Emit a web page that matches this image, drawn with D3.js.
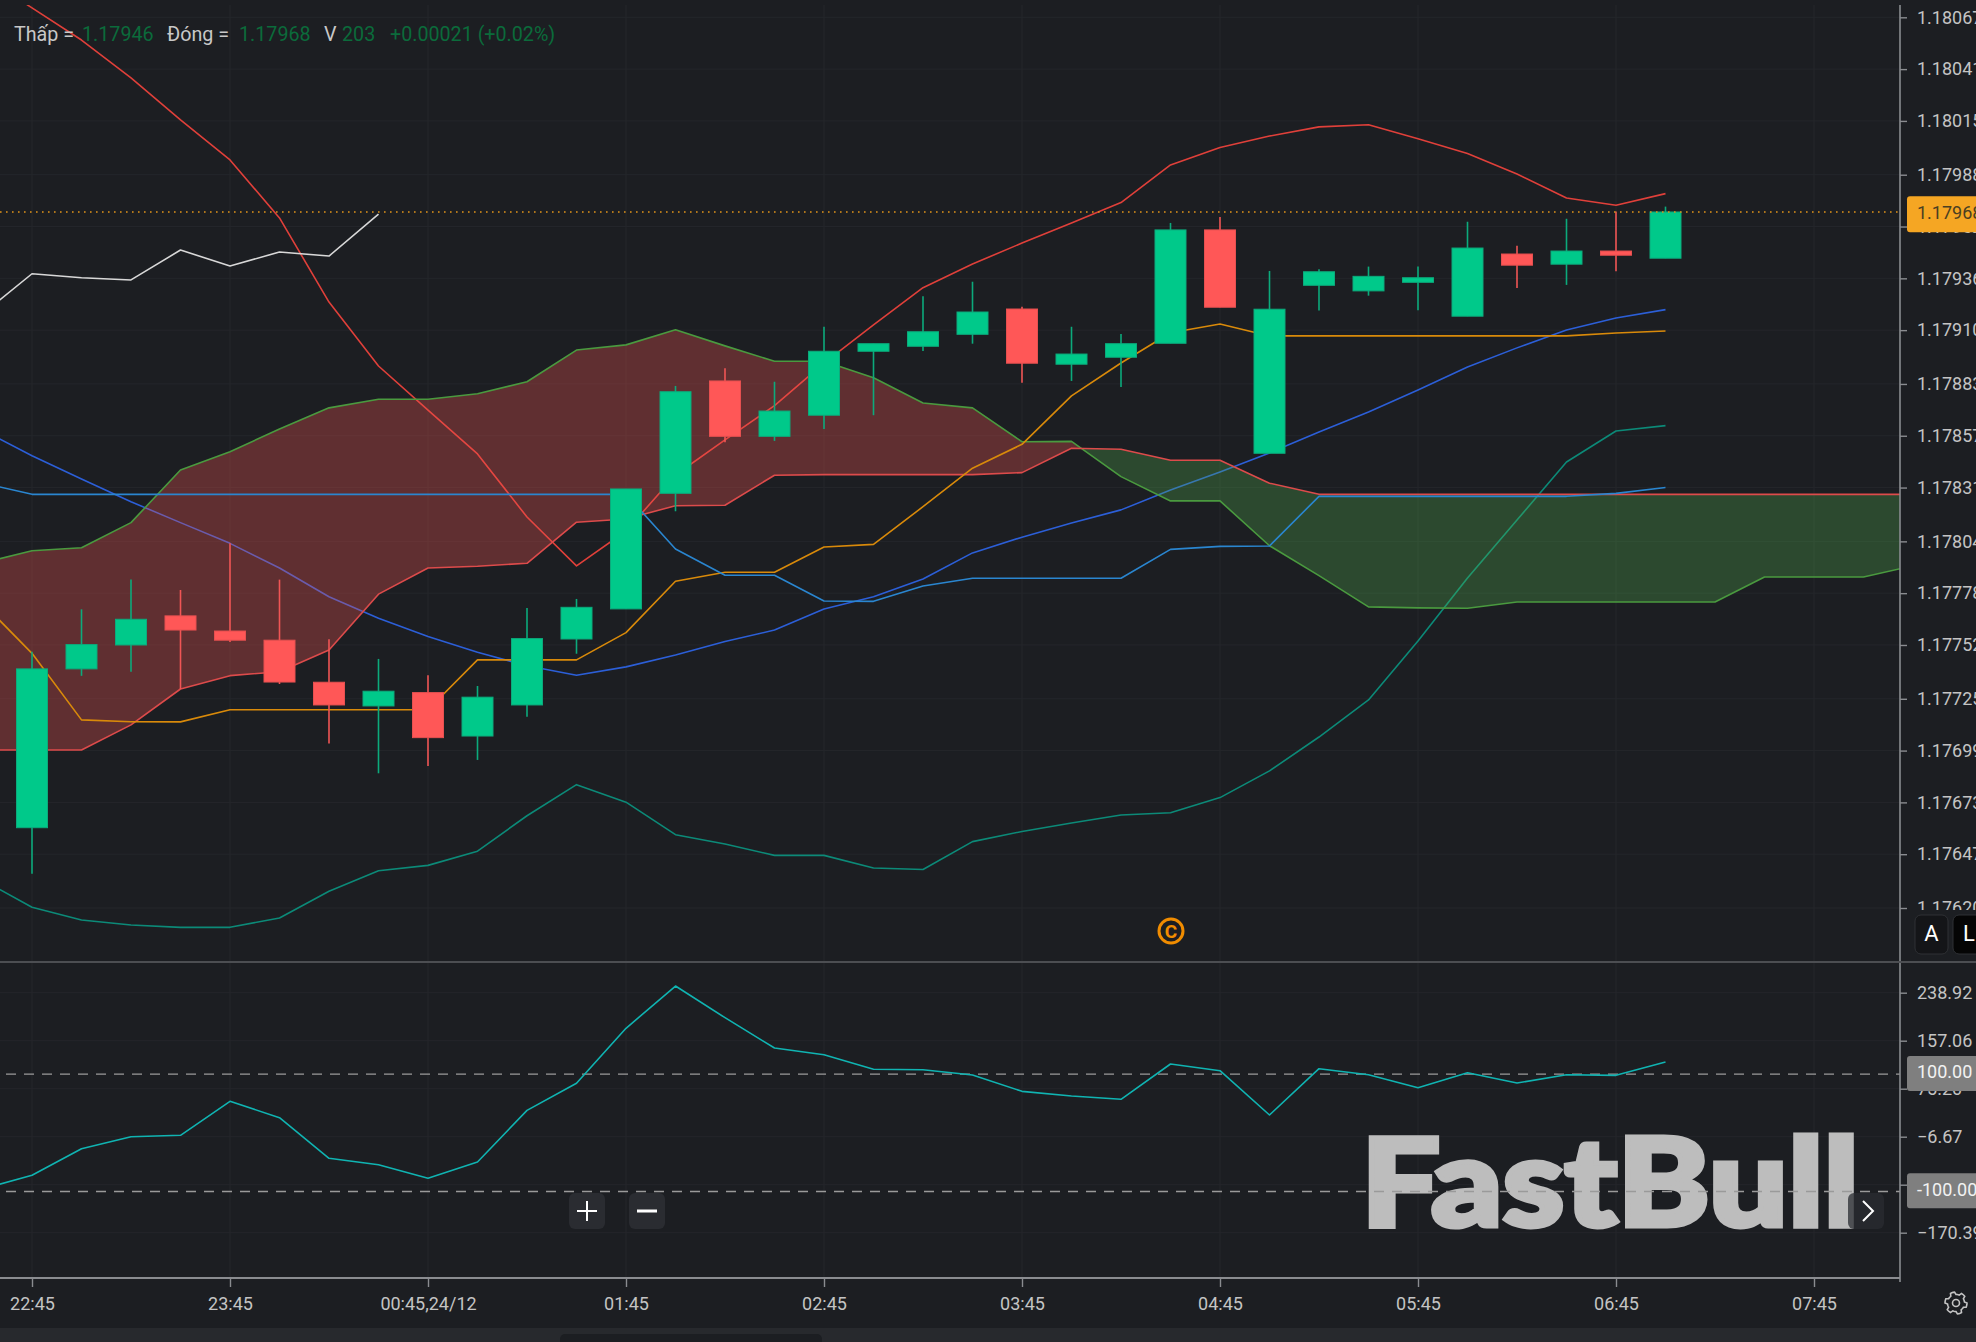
<!doctype html>
<html>
<head>
<meta charset="utf-8">
<script src="https://d3js.org/d3.v7.min.js"></script>
<style>
	html, body { margin: 0; padding: 0; background: #1c1e22; overflow: hidden; }
	svg { display: block; }
	text { font-family: Roboto, "Noto Sans", sans-serif; }
</style>
</head>
<body>
<div id="chart"></div>
<script>
// candles, bar 0 = 22:45, one bar every 15 minutes
var candleOpen = [1.176603,1.177400,1.177520,1.177666,1.177590,1.177544,1.177333,1.177214,1.177281,1.177063,1.177219,1.177550,1.177701,1.178281,1.178845,1.178567,1.178673,1.178994,1.179019,1.179079,1.179206,1.178929,1.178964,1.179034,1.179603,1.178482,1.179325,1.179297,1.179340,1.179170,1.179482,1.179431,1.179497,1.179461];
var candleClose = [1.177400,1.177522,1.177649,1.177595,1.177544,1.177334,1.177219,1.177288,1.177055,1.177258,1.177552,1.177709,1.178303,1.178791,1.178567,1.178694,1.178994,1.179032,1.179092,1.179191,1.178934,1.178980,1.179032,1.179603,1.179215,1.179205,1.179393,1.179370,1.179363,1.179512,1.179426,1.179497,1.179476,1.179693];
var candleHigh = [1.177486,1.177699,1.177848,1.177796,1.178030,1.177848,1.177549,1.177450,1.177368,1.177314,1.177706,1.177751,1.178303,1.178820,1.178909,1.178841,1.179117,1.179032,1.179270,1.179343,1.179218,1.179117,1.179081,1.179638,1.179668,1.179397,1.179405,1.179419,1.179419,1.179644,1.179524,1.179659,1.179695,1.179720];
var candleLow = [1.176372,1.177365,1.177386,1.177299,1.177535,1.177324,1.177025,1.176876,1.176913,1.176943,1.177160,1.177476,1.177701,1.178191,1.178537,1.178544,1.178604,1.178673,1.178995,1.179032,1.178836,1.178845,1.178815,1.179034,1.179215,1.178482,1.179199,1.179273,1.179200,1.179170,1.179312,1.179327,1.179395,1.179461];

// line series all start one bar before the first candle (bar -1)
var bbUpper = [1.180882,1.180717,1.180556,1.180366,1.180155,1.179954,1.179663,1.179241,1.178920,1.178699,1.178479,1.178162,1.177917,1.178092,1.178373,1.178549,1.178721,1.178935,1.179126,1.179313,1.179432,1.179537,1.179638,1.179740,1.179929,1.180017,1.180074,1.180120,1.180131,1.180061,1.179986,1.179884,1.179763,1.179727,1.179785];
var bbMiddle = [1.178599,1.178470,1.178353,1.178239,1.178134,1.178030,1.177906,1.177762,1.177654,1.177562,1.177483,1.177416,1.177368,1.177410,1.177470,1.177537,1.177595,1.177701,1.177762,1.177851,1.177982,1.178061,1.178132,1.178198,1.178298,1.178388,1.178484,1.178589,1.178689,1.178800,1.178915,1.179011,1.179101,1.179161,1.179203];
var bbLower = [1.176341,1.176204,1.176140,1.176115,1.176103,1.176103,1.176150,1.176284,1.176387,1.176414,1.176485,1.176663,1.176819,1.176731,1.176568,1.176521,1.176464,1.176464,1.176401,1.176393,1.176533,1.176584,1.176627,1.176667,1.176678,1.176754,1.176888,1.177058,1.177244,1.177540,1.177856,1.178147,1.178438,1.178594,1.178621];
var tenkan = [1.177731,1.177478,1.177144,1.177135,1.177134,1.177195,1.177195,1.177195,1.177195,1.177195,1.177445,1.177445,1.177445,1.177582,1.177840,1.177885,1.177885,1.178012,1.178025,1.178214,1.178407,1.178527,1.178770,1.178935,1.179087,1.179131,1.179071,1.179071,1.179071,1.179071,1.179071,1.179071,1.179071,1.179086,1.179096];
var kijun = [1.178333,1.178276,1.178276,1.178276,1.178276,1.178276,1.178276,1.178276,1.178276,1.178276,1.178276,1.178276,1.178276,1.178276,1.178002,1.177870,1.177870,1.177741,1.177739,1.177816,1.177855,1.177855,1.177855,1.177855,1.178000,1.178015,1.178017,1.178266,1.178266,1.178266,1.178266,1.178266,1.178266,1.178281,1.178310];
var chikou = [1.179181,1.179383,1.179363,1.179352,1.179502,1.179422,1.179492,1.179472,1.179682];
// the cloud runs on past the last candle, up to bar 38
var senkouA = [1.177932,1.177993,1.178008,1.178134,1.178398,1.178490,1.178604,1.178710,1.178753,1.178753,1.178781,1.178841,1.179000,1.179026,1.179102,1.179021,1.178944,1.178944,1.178861,1.178734,1.178710,1.178540,1.178542,1.178365,1.178243,1.178243,1.178018,1.177868,1.177711,1.177706,1.177704,1.177736,1.177736,1.177736,1.177736,1.177736,1.177861,1.177861,1.177861,1.177917];
var senkouB = [1.176993,1.176993,1.176993,1.177119,1.177299,1.177366,1.177386,1.177495,1.177775,1.177906,1.177915,1.177930,1.178136,1.178152,1.178219,1.178221,1.178372,1.178375,1.178375,1.178375,1.178375,1.178385,1.178507,1.178502,1.178447,1.178447,1.178332,1.178276,1.178276,1.178276,1.178276,1.178276,1.178276,1.178276,1.178276,1.178276,1.178276,1.178276,1.178276,1.178276];
// CCI, bar -1 to bar 33
var cci = [-95.9,-72.5,-27.1,-6.7,-4.3,53.7,25.7,-43.5,-54.4,-77.6,-49.8,38.3,84.4,178.2,250.3,196.3,144.6,133.2,108.3,107.6,98.5,70.7,62.7,57.1,117.3,105.9,30.3,109.3,99.1,76.9,102.5,84.9,99.1,98.0,120.7];

var priceTicks = [1.18067,1.18041,1.18015,1.17988,1.17962,1.17936,1.17910,1.17883,1.17857,1.17831,1.17804,1.17778,1.17752,1.17725,1.17699,1.17673,1.17647,1.17620];
var cciTicks = [238.92,157.06,75.20,-6.67,-88.53,-170.39];
var cciLevels = [100,-100];
var timeBars = [0,4,8,12,16,20,24,28,32,36];
var timeLabels = ["22:45","23:45","00:45,24/12","01:45","02:45","03:45","04:45","05:45","06:45","07:45"];
var lastClose = candleClose[candleClose.length - 1];

var width = 1976, height = 1342;
var axisX = 1900, paneTop = 5, paneSplit = 962, paneBottom = 1278;
var upColor = "#00c98a", downColor = "#ff5757";

var svg = d3.select("#chart").append("svg").attr("width", width).attr("height", height);

var x = d3.scaleLinear().domain([0, 36]).range([32, 1814]);
var yPrice = d3.scaleLinear().domain([1.17620, 1.18067]).range([908, 17.3]);
var yCci = d3.scaleLinear().domain([-170.39, 238.92]).range([1232.7, 992.7]);

svg.append("rect").attr("width", width).attr("height", height).attr("fill", "#1c1e22");

var defs = svg.append("defs");
defs.append("clipPath").attr("id", "mainClip").append("rect")
	.attr("x", 0).attr("y", paneTop).attr("width", axisX).attr("height", paneSplit - paneTop);
defs.append("clipPath").attr("id", "cciClip").append("rect")
	.attr("x", 0).attr("y", paneSplit).attr("width", axisX).attr("height", paneBottom - paneSplit);
defs.append("clipPath").attr("id", "priceAxisClip").append("rect")
	.attr("x", axisX).attr("y", 0).attr("width", 100).attr("height", 910);

// grid
var grid = svg.append("g").attr("stroke", "#24262b").attr("stroke-width", 1);
grid.selectAll(".gh").data(priceTicks).enter().append("line")
	.attr("x1", 0).attr("x2", axisX).attr("y1", function (d) { return yPrice(d); }).attr("y2", function (d) { return yPrice(d); });
grid.selectAll(".gc").data(cciTicks).enter().append("line")
	.attr("x1", 0).attr("x2", axisX).attr("y1", function (d) { return yCci(d); }).attr("y2", function (d) { return yCci(d); });
grid.selectAll(".gv").data(timeBars).enter().append("line")
	.attr("y1", paneTop).attr("y2", paneBottom).attr("x1", function (d) { return x(d); }).attr("x2", function (d) { return x(d); });

var main = svg.append("g").attr("clip-path", "url(#mainClip)");

function priceLine(values, color, g) {
	var line = d3.line()
		.x(function (d, i) { return x(i - 1); })
		.y(function (d) { return yPrice(d); });
	(g || main).append("path").datum(values)
		.attr("d", line).attr("fill", "none").attr("stroke", color)
		.attr("stroke-width", 1.6).attr("stroke-linejoin", "round");
}

// bollinger goes under the cloud, the cloud tints it
priceLine(bbUpper, "#e0403a");
priceLine(bbMiddle, "#2c5fd8");
priceLine(bbLower, "#0c8a78");

// add the crossing points so the two fills meet exactly
var cloud = [];
senkouA.forEach(function (a, i) {
	var b = senkouB[i];
	if (i > 0) {
		var d0 = senkouA[i - 1] - senkouB[i - 1], d1 = a - b;
		if (d0 * d1 < 0) {
			var t = d0 / (d0 - d1);
			var c = senkouA[i - 1] + (a - senkouA[i - 1]) * t;
			cloud.push({ bar: i - 1 + t - 1, a: c, b: c });
		}
	}
	cloud.push({ bar: i - 1, a: a, b: b });
});
var redArea = d3.area().x(function (d) { return x(d.bar); })
	.y0(function (d) { return yPrice(d.b); })
	.y1(function (d) { return yPrice(Math.max(d.a, d.b)); });
var greenArea = d3.area().x(function (d) { return x(d.bar); })
	.y0(function (d) { return yPrice(d.b); })
	.y1(function (d) { return yPrice(Math.min(d.a, d.b)); });
main.append("path").datum(cloud).attr("d", redArea).attr("fill", "rgb(239,83,80)").attr("fill-opacity", 0.32);
main.append("path").datum(cloud).attr("d", greenArea).attr("fill", "rgb(84,175,80)").attr("fill-opacity", 0.3);

priceLine(senkouA, "#4a9a3f");
priceLine(senkouB, "#dd4b4b");
priceLine(tenkan, "#d98a0a");
priceLine(kijun, "#2a86d0");
priceLine(chikou, "#d8d8d8");

// candles
var candles = candleOpen.map(function (o, i) {
	return { bar: i, open: o, close: candleClose[i], high: candleHigh[i], low: candleLow[i] };
});
var bar = main.selectAll(".candle").data(candles).enter().append("g").attr("class", "candle");
bar.append("line")
	.attr("x1", function (d) { return x(d.bar); }).attr("x2", function (d) { return x(d.bar); })
	.attr("y1", function (d) { return yPrice(d.high); }).attr("y2", function (d) { return yPrice(d.low); })
	.attr("stroke-width", 1.6)
	.attr("stroke", function (d) { return d.close >= d.open ? "#0caa7c" : "#f05555"; });
bar.append("rect")
	.attr("x", function (d) { return x(d.bar) - 15.5; }).attr("width", 31)
	.attr("y", function (d) { return yPrice(Math.max(d.open, d.close)); })
	.attr("height", function (d) { return Math.abs(yPrice(d.open) - yPrice(d.close)); })
	.attr("fill", function (d) { return d.close >= d.open ? upColor : downColor; })
	.attr("stroke", function (d) { return d.close >= d.open ? "#0caa7c" : "#e65050"; })
	.attr("stroke-width", 1);

// last price line
svg.append("line").attr("x1", 0).attr("x2", axisX).attr("y1", yPrice(lastClose)).attr("y2", yPrice(lastClose))
	.attr("stroke", "#e0941a").attr("stroke-width", 1.6).attr("stroke-dasharray", "1.6 4.4");

// header
var head = svg.append("text").attr("x", 14).attr("y", 41).attr("font-size", 19.7).attr("fill", "#c8c8c8");
head.append("tspan").text("Thấp = ");
head.append("tspan").attr("x", 82).attr("fill", "#0b6b3b").text("1.17946");
head.append("tspan").attr("x", 167).text("Đóng = ");
head.append("tspan").attr("x", 239).attr("fill", "#0b6b3b").text("1.17968");
head.append("tspan").attr("x", 324).text("V");
head.append("tspan").attr("x", 342).attr("fill", "#0b6b3b").text("203");
head.append("tspan").attr("x", 390).attr("fill", "#0b6b3b").text("+0.00021 (+0.02%)");

// watermark, copyright mark
svg.append("text").attr("x", 1361).attr("y", 1226).attr("font-size", 122)
	.attr("textLength", 498).attr("lengthAdjust", "spacingAndGlyphs")
	.attr("font-weight", 900).style("font-family", "Lato, Roboto, sans-serif")
	.attr("fill", "#bdbdbd").attr("stroke", "#bdbdbd").attr("stroke-width", 5).text("FastBull");
svg.append("circle").attr("cx", 1171).attr("cy", 931).attr("r", 12).attr("fill", "none")
	.attr("stroke", "#f08c00").attr("stroke-width", 3);
svg.append("text").attr("x", 1171).attr("y", 938).attr("text-anchor", "middle")
	.attr("font-size", 19).attr("font-weight", 700).attr("fill", "#f08c00").text("C");

// CCI pane
var cciLine = d3.line().x(function (d, i) { return x(i - 1); }).y(function (d) { return yCci(d); });
var cciPane = svg.append("g").attr("clip-path", "url(#cciClip)");
cciPane.selectAll(".level").data(cciLevels).enter().append("line")
	.attr("x1", 6).attr("x2", axisX).attr("y1", function (d) { return yCci(d); }).attr("y2", function (d) { return yCci(d); })
	.attr("stroke", "#9a9a9a").attr("stroke-width", 1.4).attr("stroke-dasharray", "10 8");
cciPane.append("path").datum(cci).attr("d", cciLine).attr("fill", "none")
	.attr("stroke", "#10b4b2").attr("stroke-width", 1.6).attr("stroke-linejoin", "round");

// axes
function styleAxis(g) {
	g.select(".domain").remove();
	g.selectAll("line").attr("stroke", "#8a8c90").attr("stroke-width", 1.4);
	g.selectAll("text").attr("fill", "#c4c4c4").attr("font-size", 18)
		.style("font-family", "Roboto, sans-serif");
}
svg.append("g").attr("clip-path", "url(#priceAxisClip)").append("g")
	.attr("transform", "translate(" + axisX + ",0)")
	.call(d3.axisRight(yPrice).tickValues(priceTicks).tickFormat(d3.format(".5f")).tickSize(7).tickPadding(10))
	.call(styleAxis);
svg.append("g").attr("transform", "translate(" + axisX + ",0)")
	.call(d3.axisRight(yCci).tickValues(cciTicks).tickFormat(d3.format(".2f")).tickSize(7).tickPadding(10))
	.call(styleAxis);
svg.append("g").attr("transform", "translate(0," + paneBottom + ")")
	.call(d3.axisBottom(x).tickValues(timeBars).tickFormat(function (d, i) { return timeLabels[i]; }).tickSize(9).tickPadding(10))
	.call(styleAxis);

// frame
svg.append("line").attr("x1", axisX).attr("x2", axisX).attr("y1", paneTop).attr("y2", paneBottom + 4)
	.attr("stroke", "#8a8c90").attr("stroke-width", 1.6);
svg.append("line").attr("x1", 0).attr("x2", 1976).attr("y1", paneSplit).attr("y2", paneSplit)
	.attr("stroke", "#4c4e52").attr("stroke-width", 2);
svg.append("line").attr("x1", 0).attr("x2", axisX).attr("y1", paneBottom).attr("y2", paneBottom)
	.attr("stroke", "#8a8c90").attr("stroke-width", 1.8);

// value tags
function tag(y, h, fill, label, textColor) {
	svg.append("rect").attr("x", 1907).attr("y", y - h / 2).attr("width", 80).attr("height", h)
		.attr("rx", 3).attr("fill", fill);
	svg.append("text").attr("x", 1917).attr("y", y + 5).attr("font-size", 18).attr("fill", textColor).text(label);
}
tag(yPrice(lastClose) + 2.3, 36, "#f5a623", "1.17968", "#4a3f22");
tag(yCci(100) - 0.7, 35, "#7f7f7f", "100.00", "#f2f2f2");
tag(yCci(-100) - 0.7, 35, "#7f7f7f", "-100.00", "#f2f2f2");

// buttons
function button(bx, by, w, h, fill) {
	return svg.append("rect").attr("x", bx).attr("y", by).attr("width", w).attr("height", h).attr("rx", 6).attr("fill", fill);
}
function stroke(x1, y1, x2, y2, w) {
	svg.append("line").attr("x1", x1).attr("y1", y1).attr("x2", x2).attr("y2", y2)
		.attr("stroke", "#ffffff").attr("stroke-width", w);
}
button(569, 1193, 36, 36, "#2a2c31");
stroke(577, 1211, 597, 1211, 2);
stroke(587, 1201, 587, 1221, 2);
button(629, 1193, 36, 36, "#2a2c31");
stroke(637, 1211, 657, 1211, 3);
button(1848, 1193, 36, 36, "#2a2c31").attr("fill-opacity", 0.75);
svg.append("path").attr("d", d3.line()([[1863, 1201], [1873, 1211], [1863, 1221]]))
	.attr("fill", "none").attr("stroke", "#ffffff").attr("stroke-width", 2);

button(1915, 915, 33, 39, "#141518").attr("stroke", "#2e3034");
svg.append("text").attr("x", 1931.5).attr("y", 941).attr("text-anchor", "middle")
	.attr("font-size", 22).attr("fill", "#ffffff").text("A");
button(1953, 915, 40, 39, "#050505").attr("stroke", "#2e3034");
svg.append("text").attr("x", 1963).attr("y", 941).attr("font-size", 22).attr("fill", "#ffffff").text("L");

// settings gear
var gearPoints = d3.range(48).map(function (k) {
	var a = k / 48 * 2 * Math.PI;
	var r = (k % 8) < 4 ? 11 : 8.5;
	return [1956 + r * Math.cos(a), 1303 + r * Math.sin(a)];
});
svg.append("path").attr("d", d3.line().curve(d3.curveLinearClosed)(gearPoints))
	.attr("fill", "none").attr("stroke", "#c4c4c4").attr("stroke-width", 1.6);
svg.append("circle").attr("cx", 1956).attr("cy", 1303).attr("r", 3.5).attr("fill", "none")
	.attr("stroke", "#c4c4c4").attr("stroke-width", 1.6);

// scrollbar strip at the bottom
svg.append("rect").attr("x", 0).attr("y", 1328).attr("width", width).attr("height", 14).attr("fill", "#27292d");
svg.append("rect").attr("x", 560).attr("y", 1334).attr("width", 262).attr("height", 14).attr("rx", 5).attr("fill", "#1c1e22");
</script>
</body>
</html>
